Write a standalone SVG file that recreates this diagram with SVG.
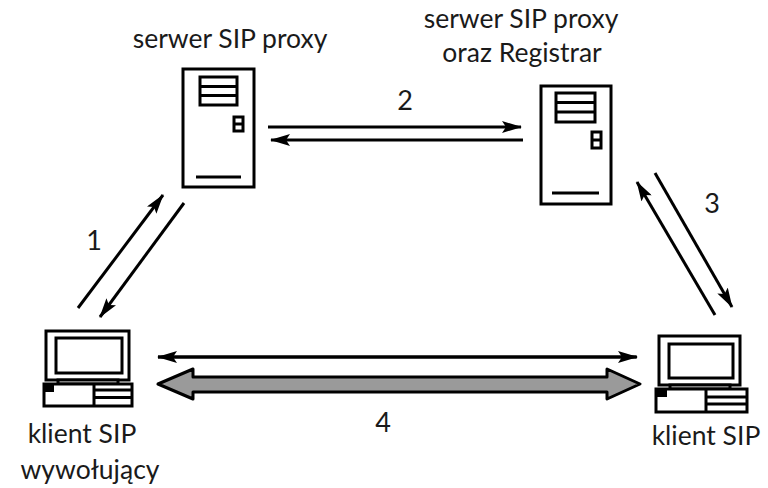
<svg xmlns="http://www.w3.org/2000/svg" width="768" height="488" viewBox="0 0 768 488">
<defs>
<marker id="ah" viewBox="0 0 20 12" refX="19" refY="6" markerWidth="20" markerHeight="12" markerUnits="userSpaceOnUse" orient="auto">
<path d="M0,0 L20,6 L0,12 L4,6 Z" fill="#000"/>
</marker>
</defs>
<style>
.lbl{font-family:Lato,"Liberation Sans",sans-serif;font-size:26.5px;fill:#1a1a1a}
.num{font-family:Lato,"Liberation Sans",sans-serif;font-size:27px;fill:#1a1a1a}
.o{fill:#fff;stroke:#000;stroke-width:3}
.l{stroke:#000;stroke-width:3;fill:none}
.c{stroke:#000;stroke-width:3;fill:none;marker-end:url(#ah)}
</style>
<rect width="768" height="488" fill="#fff"/>
<g id="proxy1">
<rect class="o" x="183" y="69" width="71" height="118"/>
<rect class="o" x="200" y="77" width="37" height="28"/>
<line class="l" x1="200" y1="86.5" x2="237" y2="86.5"/>
<line class="l" x1="200" y1="95.5" x2="237" y2="95.5"/>
<rect class="o" x="234" y="117" width="9" height="14"/>
<line class="l" x1="234" y1="124" x2="243" y2="124"/>
<line class="l" x1="196" y1="177" x2="241" y2="177"/>
<text class="lbl" x="230" y="48" text-anchor="middle">serwer SIP proxy</text>
</g>
<g id="proxy2">
<rect class="o" x="541" y="86" width="70" height="118"/>
<rect class="o" x="556" y="93" width="39" height="29"/>
<line class="l" x1="556" y1="102.5" x2="595" y2="102.5"/>
<line class="l" x1="556" y1="112" x2="595" y2="112"/>
<rect class="o" x="592" y="132" width="9" height="16"/>
<line class="l" x1="592" y1="140" x2="601" y2="140"/>
<line class="l" x1="552" y1="193" x2="599" y2="193"/>
<text class="lbl" x="521" y="28" text-anchor="middle">serwer SIP proxy</text>
<text class="lbl" x="522" y="62" text-anchor="middle">oraz Registrar</text>
</g>
<g id="client1">
<rect class="o" x="46" y="331" width="83" height="49"/>
<rect class="o" x="56" y="338" width="66" height="35"/>
<rect class="o" x="58" y="380" width="60" height="4"/>
<rect class="o" x="44" y="384" width="88" height="22"/>
<rect x="44" y="384" width="10" height="8" fill="#000"/>
<line class="l" x1="94" y1="384" x2="94" y2="406"/>
<line class="l" x1="94" y1="390" x2="132" y2="390"/>
<line class="l" x1="94" y1="397.5" x2="132" y2="397.5"/>
<text class="lbl" x="82" y="443" text-anchor="middle">klient SIP</text>
<text class="lbl" x="90" y="479" text-anchor="middle">wywołujący</text>
</g>
<g id="client2">
<rect class="o" x="659" y="336" width="81" height="49"/>
<rect class="o" x="669" y="344" width="64" height="34"/>
<rect class="o" x="670" y="385" width="60" height="4"/>
<rect class="o" x="656" y="389" width="91" height="23"/>
<rect x="656" y="389" width="11" height="8" fill="#000"/>
<line class="l" x1="706" y1="389" x2="706" y2="412"/>
<line class="l" x1="706" y1="397" x2="747" y2="397"/>
<line class="l" x1="706" y1="404" x2="747" y2="404"/>
<text class="lbl" x="706" y="445" text-anchor="middle">klient SIP</text>
</g>
<g id="connectors">
<line class="c" x1="268" y1="127" x2="521" y2="127"/>
<line class="c" x1="523" y1="140" x2="271" y2="140"/>
<line class="c" x1="78" y1="308" x2="163" y2="195"/>
<line class="c" x1="184" y1="203" x2="100" y2="317"/>
<line class="c" x1="715" y1="315" x2="637" y2="182"/>
<line class="c" x1="655" y1="173" x2="732" y2="307"/>
<line class="c" x1="636" y1="357" x2="158" y2="357"/>
<line class="c" x1="158" y1="357" x2="637" y2="357"/>
<polygon points="158,384 193,369 193,377 607,377 607,369 640,384 607,399 607,392 193,392 193,399" fill="#9a9a9a" stroke="#000" stroke-width="3" stroke-linejoin="round"/>
<text class="num" x="405" y="110" text-anchor="middle">2</text>
<text class="num" x="94" y="250" text-anchor="middle">1</text>
<text class="num" x="712" y="213" text-anchor="middle">3</text>
<text class="num" x="383" y="432" text-anchor="middle">4</text>
</g>
</svg>
